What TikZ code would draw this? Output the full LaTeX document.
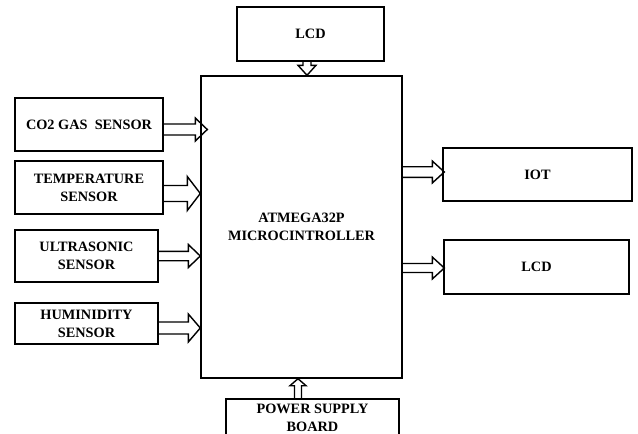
\documentclass[tikz,border=0pt]{standalone}
\usepackage{fontspec}
\setmainfont{Liberation Serif}
\usetikzlibrary{calc, positioning}

\begin{document}
\begin{tikzpicture}[x=1pt, y=-1pt,
	block/.style={draw, line width=1.4pt, align=center, inner sep=0pt,
		font=\bfseries\fontsize{14.3}{18}\selectfont},
	flow/.style n args={3}{line width=1.4pt, to path={
		let \p1=(\tikztostart), \p2=(\tikztotarget),
			\n1={atan2(\y2-\y1,\x2-\x1)}, \n2={veclen(\x2-\x1,\y2-\y1)} in
		[shift={(\p1)}, rotate=\n1, x=1pt, y=1pt]
		(0,#1) -- (\n2-#3,#1) -- (\n2-#3,#2) -- (\n2,0) -- (\n2-#3,-#2) -- (\n2-#3,-#1) -- (0,-#1)}}]

	\useasboundingbox (0,0) rectangle (638,434);

	\node[block, minimum width=201pt, minimum height=302pt] (mcu) at (301.5,227) {ATMEGA32P\\MICROCINTROLLER};
	\node[block, minimum width=147pt, minimum height=54pt] (lcdin) at (310.5,34) {LCD};

	\node[block, minimum width=148pt, minimum height=53pt] (co2) at (89,124.5) {CO2 GAS\ \ SENSOR};
	\node[block, minimum width=148pt, minimum height=53pt] (temp) at (89,187.5) {TEMPERATURE\\SENSOR};
	\node[block, minimum width=143pt, minimum height=52pt] (ultra) at (86.5,256) {ULTRASONIC\\SENSOR};
	\node[block, minimum width=143pt, minimum height=41pt] (humid) at (86.5,323.5) {HUMINIDITY\\SENSOR};

	\node[block, minimum width=189pt, minimum height=53pt] (iot) at (537.5,174.5) {IOT};
	\node[block, minimum width=185pt, minimum height=54pt] (lcdout) at (536.5,267) {LCD};

	\node[block, minimum width=173pt, minimum height=38pt] (power) at (312.5,418) {POWER SUPPLY\\BOARD};

	% inputs
	\draw[flow={5.5}{11.5}{12}] ([yshift=-5pt]co2.east) to ([xshift=7pt, yshift=-5pt]co2 -| mcu.west);
	\draw[flow={8}{17}{13}] ([yshift=-6pt]temp.east) to ([yshift=-6pt]temp -| mcu.west);
	\draw[flow={4.7}{11.5}{12}] (ultra.east) to (ultra -| mcu.west);
	\draw[flow={6}{14}{12}] ([yshift=-4.5pt]humid.east) to ([yshift=-4.5pt]humid -| mcu.west);
	\draw[flow={4}{9}{10}] ([xshift=-3.5pt]lcdin.south) to ([xshift=-3.5pt]lcdin.south |- mcu.north);
	\draw[flow={3.5}{8}{7}] ([xshift=-14.5pt]power.north) to ([xshift=-14.5pt]power.north |- mcu.south);

	% outputs
	\draw[flow={5.3}{11}{12}] ([yshift=2.5pt]iot -| mcu.east) to ([xshift=2pt, yshift=2.5pt]iot.west);
	\draw[flow={4.5}{11}{12}] ([yshift=-1pt]lcdout -| mcu.east) to ([xshift=1pt, yshift=-1pt]lcdout.west);

\end{tikzpicture}
\end{document}
